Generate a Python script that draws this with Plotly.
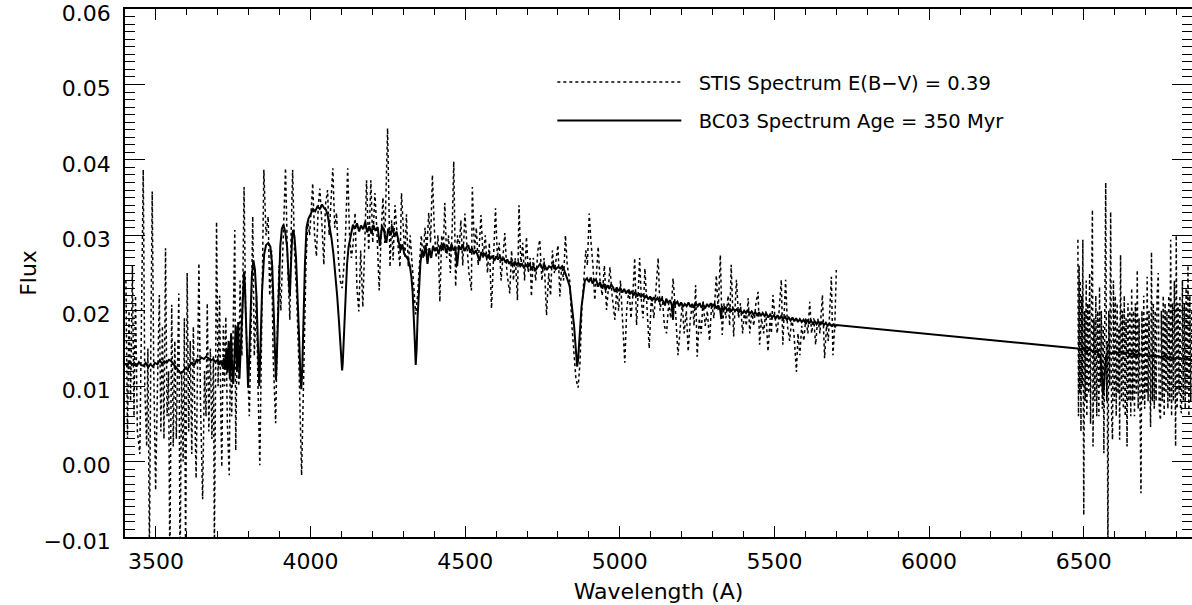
import plotly.graph_objects as go

# ---------------- data ----------------
# STIS observed spectrum, blue part (wavelength in A, flux)
stis_blue_wave = [
    3403, 3408, 3413, 3418, 3424, 3429, 3434, 3440, 3448, 3454, 3459, 3464, 3470, 3474, 3479, 3484,
    3488, 3493, 3499, 3505, 3511, 3516, 3521, 3526, 3531, 3536, 3541, 3545, 3551, 3556, 3561, 3566,
    3571, 3574, 3578, 3583, 3588, 3592, 3596, 3601, 3606, 3611, 3616, 3621, 3626, 3630, 3635, 3639,
    3644, 3651, 3657, 3662, 3666, 3671, 3676, 3681, 3686, 3689, 3693, 3696, 3701, 3706, 3710, 3713,
    3718, 3722, 3726, 3731, 3737, 3741, 3745, 3750, 3755, 3758, 3763, 3768, 3772, 3778, 3785, 3790,
    3796, 3802, 3808, 3813, 3818, 3825, 3830, 3836, 3842, 3849, 3856, 3863, 3868, 3874, 3879, 3887,
    3893, 3898, 3904, 3912, 3919, 3926, 3933, 3937, 3942, 3948, 3955, 3963, 3971, 3978, 3985, 3991,
    3997, 4003, 4007, 4013, 4019, 4025, 4030, 4036, 4043, 4048, 4055, 4060, 4066, 4072, 4078, 4084,
    4090, 4096, 4102, 4108, 4113, 4120, 4126, 4132, 4138, 4144, 4150, 4156, 4162, 4169, 4176, 4181,
    4188, 4195, 4201, 4208, 4214, 4222, 4228, 4234, 4240, 4249, 4257, 4262, 4267, 4273, 4280, 4289,
    4294, 4300, 4305, 4310, 4316, 4322, 4328, 4334, 4340, 4346, 4352, 4358, 4364, 4370, 4376, 4382,
    4388, 4394, 4400, 4406, 4412, 4418, 4424, 4429, 4434, 4440, 4446, 4452, 4458, 4463, 4469, 4475,
    4480, 4486, 4492, 4499, 4505, 4512, 4520, 4523, 4530, 4536, 4542, 4551, 4558, 4565, 4572, 4578,
    4585, 4592, 4598, 4604, 4610, 4616, 4622, 4628, 4635, 4644, 4650, 4656, 4662, 4669, 4674, 4680,
    4686, 4692, 4698, 4704, 4710, 4714, 4720, 4728, 4735, 4741, 4748, 4755, 4763, 4770, 4776, 4782,
    4788, 4794, 4800, 4806, 4812, 4818, 4824, 4830, 4838, 4845, 4852, 4858, 4865, 4871, 4877, 4884,
    4890, 4895, 4901, 4907, 4913, 4919, 4925, 4930, 4936, 4943, 4950, 4957, 4963, 4968, 4975, 4984,
    4990, 4996, 5002, 5010, 5016, 5022, 5030, 5036, 5042, 5048, 5054, 5059, 5064, 5070, 5075, 5081,
    5088, 5095, 5102, 5110, 5117, 5124, 5130, 5137, 5144, 5151, 5158, 5165, 5172, 5180, 5188, 5195,
    5202, 5208, 5215, 5221, 5228, 5235, 5240, 5245, 5250, 5257, 5263, 5269, 5276, 5283, 5290, 5297,
    5304, 5312, 5318, 5325, 5331, 5337, 5343, 5350, 5355, 5360, 5368, 5377, 5384, 5390, 5397, 5403,
    5409, 5415, 5420, 5427, 5433, 5440, 5447, 5452, 5458, 5465, 5472, 5479, 5486, 5490, 5495, 5502,
    5509, 5515, 5522, 5527, 5536, 5542, 5549, 5556, 5563, 5571, 5576, 5582, 5588, 5595, 5601, 5608,
    5614, 5620, 5627, 5633, 5640, 5647, 5655, 5662, 5668, 5674, 5679, 5684, 5689, 5695, 5700,
]
stis_blue_flux = [
    0.024, 0.003, 0.020, 0.008, 0.026, 0.006, 0.022, 0.004, 0.001, 0.020, 0.0387, 0.010, 0.002, 0.015, -0.012, 0.018,
    0.0358, 0.012, -0.0038, 0.010, 0.0221, 0.004, 0.018, 0.003, 0.0283, 0.006, 0.012, -0.014, 0.0208, 0.002, 0.016, 0.003,
    0.018, 0.0223, -0.015, 0.012, 0.000, 0.019, -0.013, 0.0250, 0.004, 0.016, 0.001, 0.0179, 0.006, -0.0022, 0.014, 0.0263,
    0.008, -0.005, 0.012, 0.006, 0.021, 0.004, 0.015, 0.003, 0.014, -0.012, 0.012, 0.0318, 0.010, 0.022, 0.006, -0.0007,
    0.018, 0.010, 0.0192, 0.005, -0.0018, 0.016, 0.006, 0.020, 0.0307, 0.0015, 0.018, 0.010, 0.024, 0.014, 0.0364, 0.020,
    0.012, 0.006, 0.018, 0.0325, 0.014, 0.022, 0.010, -0.0005, 0.018, 0.0387, 0.030, 0.0325, 0.022, 0.028, 0.014, 0.0051,
    0.018, 0.026, 0.020, 0.032, 0.0389, 0.026, 0.0188, 0.030, 0.0387, 0.028, 0.022, 0.012, -0.0018, 0.012, 0.026, 0.032,
    0.030, 0.034, 0.0369, 0.030, 0.0272, 0.034, 0.0362, 0.032, 0.0261, 0.034, 0.036, 0.030, 0.034, 0.0389, 0.031, 0.033,
    0.027, 0.024, 0.023, 0.026, 0.030, 0.0389, 0.030, 0.027, 0.029, 0.033, 0.023, 0.0199, 0.028, 0.0205, 0.030, 0.0373,
    0.028, 0.0373, 0.029, 0.0356, 0.031, 0.0227, 0.030, 0.035, 0.029, 0.0442, 0.0258, 0.032, 0.0267, 0.034, 0.030, 0.0258,
    0.0356, 0.030, 0.027, 0.0328, 0.0258, 0.030, 0.026, 0.022, 0.0195, 0.022, 0.026, 0.030, 0.027, 0.031, 0.028, 0.033,
    0.029, 0.038, 0.031, 0.027, 0.030, 0.0212, 0.030, 0.028, 0.0343, 0.027, 0.030, 0.025, 0.031, 0.0398, 0.0232, 0.030,
    0.028, 0.032, 0.026, 0.0329, 0.029, 0.025, 0.0227, 0.0364, 0.028, 0.031, 0.026, 0.0327, 0.027, 0.030, 0.025, 0.029,
    0.0203, 0.028, 0.0336, 0.027, 0.029, 0.024, 0.027, 0.0303, 0.025, 0.0223, 0.028, 0.024, 0.027, 0.0214, 0.034, 0.026,
    0.029, 0.024, 0.0298, 0.025, 0.027, 0.0219, 0.027, 0.024, 0.028, 0.0294, 0.024, 0.027, 0.0194, 0.025, 0.022, 0.028,
    0.025, 0.027, 0.0287, 0.0219, 0.026, 0.024, 0.030, 0.026, 0.024, 0.018, 0.014, 0.011, 0.0098, 0.013, 0.020, 0.024,
    0.028, 0.026, 0.0329, 0.029, 0.026, 0.0214, 0.025, 0.0285, 0.024, 0.022, 0.026, 0.0201, 0.023, 0.0258, 0.022, 0.0188,
    0.023, 0.020, 0.024, 0.018, 0.0131, 0.020, 0.023, 0.019, 0.022, 0.027, 0.0181, 0.022, 0.027, 0.021, 0.019, 0.0256,
    0.020, 0.015, 0.022, 0.019, 0.023, 0.027, 0.020, 0.022, 0.018, 0.017, 0.021, 0.019, 0.0243, 0.020, 0.0141, 0.018,
    0.021, 0.017, 0.020, 0.0146, 0.019, 0.021, 0.018, 0.0234, 0.0139, 0.019, 0.017, 0.0214, 0.018, 0.020, 0.016, 0.021,
    0.019, 0.0247, 0.020, 0.0274, 0.0168, 0.021, 0.019, 0.022, 0.018, 0.0261, 0.0166, 0.0241, 0.019, 0.021, 0.017, 0.020,
    0.018, 0.0217, 0.017, 0.020, 0.018, 0.021, 0.0225, 0.0155, 0.019, 0.017, 0.020, 0.0146, 0.019, 0.017, 0.0221, 0.019,
    0.017, 0.020, 0.0241, 0.0155, 0.0241, 0.018, 0.016, 0.019, 0.017, 0.0119, 0.017, 0.0141, 0.018, 0.016, 0.019, 0.017,
    0.0212, 0.017, 0.019, 0.0155, 0.019, 0.017, 0.0221, 0.0137, 0.018, 0.016, 0.020, 0.0245, 0.0141, 0.018, 0.0254,
]

# STIS observed spectrum, red part
stis_red_wave = [
    6481, 6483, 6485, 6487, 6489, 6491, 6493, 6495, 6497, 6500, 6503, 6505, 6508, 6510, 6513, 6516,
    6519, 6522, 6525, 6528, 6530, 6533, 6536, 6539, 6542, 6545, 6549, 6551, 6554, 6557, 6560, 6563,
    6565, 6568, 6571, 6574, 6576, 6578, 6581, 6584, 6587, 6590, 6593, 6596, 6599, 6602, 6605, 6608,
    6611, 6614, 6616, 6619, 6622, 6625, 6628, 6631, 6634, 6637, 6640, 6643, 6646, 6649, 6652, 6655,
    6658, 6661, 6664, 6667, 6670, 6673, 6676, 6679, 6682, 6685, 6688, 6691, 6694, 6697, 6700, 6703,
    6705, 6708, 6711, 6714, 6716, 6719, 6722, 6725, 6728, 6731, 6734, 6737, 6741, 6744, 6748, 6751,
    6754, 6757, 6760, 6763, 6766, 6769, 6772, 6775, 6778, 6781, 6784, 6787, 6790, 6793, 6797, 6799,
    6802, 6805, 6808, 6811, 6813, 6816, 6819, 6822, 6825, 6828, 6831, 6834, 6837, 6840, 6843, 6846,
    6849,
]
stis_red_flux = [
    0.0294, 0.006, 0.026, 0.009, 0.024, 0.004, 0.022, 0.010, 0.0294, -0.0071, 0.020, 0.008, 0.024, 0.006, 0.021, 0.009,
    0.025, 0.005, 0.022, 0.0334, 0.002, 0.019, 0.008, 0.022, 0.006, 0.020, 0.006, 0.0232, 0.010, 0.020, 0.007, 0.018,
    0.0011, 0.022, 0.037, 0.008, 0.016, -0.013, 0.020, 0.010, 0.0331, 0.006, 0.0029, 0.024, 0.008, 0.022, 0.006, 0.021,
    0.009, 0.018, 0.0029, 0.0274, 0.008, 0.020, 0.007, 0.022, 0.006, 0.019, 0.002, 0.021, 0.008, 0.020, 0.006, 0.023,
    0.008, 0.020, 0.006, 0.021, 0.009, 0.0254, 0.007, 0.019, 0.006, -0.0042, 0.020, 0.008, 0.022, 0.007, 0.019, 0.009,
    0.0245, 0.008, 0.020, 0.006, 0.0046, 0.0278, 0.008, 0.021, 0.007, 0.020, 0.008, 0.022, 0.025, 0.007, 0.0055, 0.020,
    0.008, 0.022, 0.006, 0.021, 0.009, 0.020, 0.007, 0.022, 0.008, 0.0294, 0.006, 0.021, 0.008, 0.024, 0.002, 0.030,
    0.007, 0.021, 0.009, 0.022, 0.007, 0.0064, 0.024, 0.008, 0.021, 0.007, 0.023, 0.009, 0.026, 0.006, 0.022, 0.008,
    0.020,
]

# BC03 model spectrum (350 Myr)
bc03_wave = [
    3400, 3408, 3415, 3422, 3430, 3437, 3445, 3452, 3460, 3467, 3475, 3482, 3490, 3497, 3505, 3512,
    3520, 3527, 3535, 3542, 3550, 3557, 3565, 3572, 3580, 3587, 3595, 3602, 3610, 3617, 3625, 3632,
    3640, 3647, 3655, 3662, 3670, 3677, 3685, 3692, 3700, 3705, 3710, 3715, 3720, 3724, 3728, 3731,
    3735, 3739, 3743, 3747, 3750, 3754, 3758, 3762, 3766, 3770, 3774, 3778, 3782, 3785, 3788, 3792,
    3795, 3798, 3801, 3805, 3810, 3815, 3820, 3825, 3830, 3834, 3838, 3843, 3850, 3856, 3863, 3870,
    3876, 3881, 3885, 3888, 3891, 3896, 3902, 3907, 3912, 3918, 3924, 3929, 3933, 3937, 3941, 3944,
    3948, 3953, 3958, 3963, 3967, 3970, 3973, 3977, 3982, 3987, 3993, 4000, 4008, 4015, 4022, 4030,
    4037, 4044, 4050, 4056, 4062, 4068, 4074, 4080, 4086, 4092, 4097, 4100, 4102, 4104, 4108, 4113,
    4118, 4123, 4130, 4137, 4144, 4150, 4157, 4163, 4170, 4177, 4183, 4190, 4197, 4203, 4210, 4217,
    4224, 4231, 4238, 4245, 4251, 4258, 4265, 4271, 4278, 4285, 4291, 4297, 4303, 4309, 4315, 4321,
    4326, 4330, 4334, 4337, 4340, 4343, 4346, 4350, 4355, 4360, 4366, 4372, 4378, 4384, 4390, 4396,
    4402, 4408, 4414, 4420, 4426, 4432, 4438, 4444, 4450, 4456, 4462, 4468, 4474, 4480, 4486, 4492,
    4498, 4504, 4510, 4516, 4522, 4528, 4534, 4540, 4546, 4552, 4558, 4564, 4570, 4576, 4582, 4588,
    4594, 4600, 4606, 4612, 4618, 4624, 4630, 4636, 4642, 4648, 4654, 4660, 4666, 4672, 4678, 4684,
    4690, 4696, 4702, 4708, 4714, 4720, 4728, 4735, 4742, 4750, 4757, 4764, 4771, 4778, 4785, 4792,
    4800, 4807, 4814, 4820, 4826, 4832, 4838, 4843, 4848, 4852, 4856, 4859, 4862, 4865, 4868, 4872,
    4876, 4881, 4887, 4894, 4900, 4906, 4912, 4918, 4924, 4930, 4936, 4942, 4948, 4954, 4960, 4966,
    4972, 4978, 4984, 4990, 4996, 5002, 5008, 5014, 5020, 5026, 5032, 5038, 5044, 5050, 5056, 5062,
    5068, 5074, 5080, 5086, 5092, 5098, 5104, 5110, 5116, 5122, 5128, 5134, 5140, 5146, 5150, 5156,
    5162, 5168, 5172, 5175, 5180, 5186, 5192, 5198, 5204, 5210, 5216, 5222, 5228, 5234, 5240, 5246,
    5252, 5258, 5264, 5270, 5276, 5282, 5288, 5294, 5300, 5306, 5312, 5318, 5324, 5328, 5330, 5336,
    5342, 5348, 5354, 5360, 5366, 5372, 5378, 5384, 5390, 5396, 5402, 5408, 5414, 5420, 5426, 5432,
    5438, 5444, 5450, 5456, 5462, 5468, 5474, 5480, 5486, 5492, 5498, 5504, 5510, 5516, 5522, 5528,
    5534, 5540, 5546, 5552, 5558, 5564, 5570, 5576, 5582, 5588, 5594, 5600, 5606, 5612, 5618, 5624,
    5630, 5636, 5642, 5648, 5654, 5660, 5666, 5672, 5678, 5684, 5690, 5696, 5700,
    6480, 6490, 6500, 6510, 6520, 6530, 6540, 6548, 6554, 6558, 6561, 6563, 6565, 6568, 6572, 6580,
    6590, 6600, 6610, 6620, 6630, 6640, 6650, 6660, 6670, 6680, 6690, 6700, 6710, 6720, 6730, 6740,
    6750, 6760, 6770, 6780, 6790, 6800, 6810, 6820, 6830, 6840, 6850,
]
bc03_flux = [
    0.0130, 0.0127, 0.0133, 0.0128, 0.0131, 0.0126, 0.0132, 0.0128, 0.0127, 0.0131, 0.0125, 0.0129, 0.0126, 0.0131, 0.0129, 0.0134,
    0.0130, 0.0133, 0.0131, 0.0135, 0.0133, 0.0129, 0.0125, 0.0121, 0.0117, 0.0119, 0.0124, 0.0122, 0.0128, 0.0131, 0.0129, 0.0135,
    0.0134, 0.0138, 0.0136, 0.0139, 0.0137, 0.0134, 0.0136, 0.0132, 0.0135, 0.0128, 0.0134, 0.0126, 0.0137, 0.0122, 0.0150, 0.0118,
    0.0160, 0.0110, 0.0170, 0.0115, 0.0103, 0.0140, 0.0180, 0.0120, 0.0185, 0.0110, 0.0150, 0.0200, 0.0235, 0.0252, 0.0230, 0.0180,
    0.0125, 0.0098, 0.0130, 0.0195, 0.0245, 0.0267, 0.0255, 0.0220, 0.0160, 0.0100, 0.0150, 0.0225, 0.0275, 0.0287, 0.0290, 0.0285,
    0.0260, 0.0200, 0.0140, 0.0108, 0.0140, 0.0220, 0.0285, 0.0308, 0.0314, 0.0305, 0.0285, 0.0245, 0.0219, 0.0265, 0.0302, 0.0307,
    0.0298, 0.0270, 0.0225, 0.0165, 0.0115, 0.0096, 0.0120, 0.0190, 0.0265, 0.0311, 0.0322, 0.0328, 0.0335, 0.0332, 0.0338, 0.0335,
    0.0341, 0.0336, 0.0334, 0.0325, 0.0312, 0.0295, 0.0275, 0.0250, 0.0220, 0.0185, 0.0150, 0.0128, 0.0121, 0.0130, 0.0175, 0.0225,
    0.0262, 0.0285, 0.0300, 0.0314, 0.0309, 0.0316, 0.0305, 0.0313, 0.0308, 0.0318, 0.0304, 0.0312, 0.0302, 0.0314, 0.0306, 0.0311,
    0.0286, 0.0313, 0.0305, 0.0290, 0.0309, 0.0300, 0.0312, 0.0298, 0.0305, 0.0292, 0.0280, 0.0288, 0.0275, 0.0272, 0.0268, 0.0260,
    0.0245, 0.0225, 0.0195, 0.0160, 0.0128, 0.0150, 0.0190, 0.0230, 0.0262, 0.0280, 0.0272, 0.0287, 0.0262, 0.0283, 0.0270, 0.0286,
    0.0279, 0.0284, 0.0275, 0.0287, 0.0281, 0.0289, 0.0277, 0.0285, 0.0279, 0.0288, 0.0280, 0.0284, 0.0259, 0.0286, 0.0281, 0.0288,
    0.0279, 0.0284, 0.0287, 0.0277, 0.0283, 0.0275, 0.0280, 0.0274, 0.0266, 0.0278, 0.0272, 0.0276, 0.0270, 0.0275, 0.0269, 0.0273,
    0.0266, 0.0272, 0.0268, 0.0273, 0.0266, 0.0270, 0.0264, 0.0268, 0.0262, 0.0266, 0.0260, 0.0265, 0.0261, 0.0264, 0.0259, 0.0262,
    0.0257, 0.0261, 0.0258, 0.0262, 0.0256, 0.0259, 0.0254, 0.0258, 0.0262, 0.0256, 0.0260, 0.0254, 0.0259, 0.0257, 0.0261, 0.0255,
    0.0258, 0.0256, 0.0259, 0.0254, 0.0248, 0.0240, 0.0232, 0.0215, 0.0200, 0.0180, 0.0158, 0.0138, 0.0126, 0.0135, 0.0160, 0.0179,
    0.0205, 0.0223, 0.0240, 0.0243, 0.0238, 0.0244, 0.0236, 0.0241, 0.0240, 0.0232, 0.0238, 0.0230, 0.0236, 0.0228, 0.0234, 0.0229,
    0.0235, 0.0231, 0.0225, 0.0231, 0.0226, 0.0230, 0.0224, 0.0229, 0.0223, 0.0227, 0.0222, 0.0226, 0.0220, 0.0225, 0.0219, 0.0223,
    0.0218, 0.0222, 0.0217, 0.0220, 0.0215, 0.0219, 0.0213, 0.0218, 0.0214, 0.0217, 0.0212, 0.0216, 0.0213, 0.0207, 0.0216, 0.0210,
    0.0214, 0.0208, 0.0188, 0.0213, 0.0209, 0.0212, 0.0206, 0.0211, 0.0205, 0.0209, 0.0206, 0.0211, 0.0205, 0.0209, 0.0204, 0.0210,
    0.0206, 0.0210, 0.0204, 0.0208, 0.0203, 0.0209, 0.0205, 0.0210, 0.0206, 0.0209, 0.0203, 0.0207, 0.0202, 0.0189, 0.0206, 0.0201,
    0.0205, 0.0200, 0.0204, 0.0199, 0.0203, 0.0200, 0.0202, 0.0198, 0.0201, 0.0196, 0.0200, 0.0197, 0.0201, 0.0196, 0.0199, 0.0195,
    0.0198, 0.0194, 0.0198, 0.0193, 0.0197, 0.0193, 0.0196, 0.0191, 0.0195, 0.0191, 0.0194, 0.0190, 0.0194, 0.0189, 0.0193, 0.0189,
    0.0192, 0.0188, 0.0191, 0.0187, 0.0191, 0.0186, 0.0190, 0.0185, 0.0189, 0.0185, 0.0188, 0.0184, 0.0188, 0.0183, 0.0187, 0.0183,
    0.0186, 0.0182, 0.0186, 0.0181, 0.0185, 0.0181, 0.0184, 0.0180, 0.0183, 0.0180, 0.0182, 0.0179, 0.0181,
    0.0150, 0.0148, 0.0151, 0.0146, 0.0149, 0.0145, 0.0147, 0.0143, 0.0138, 0.0120, 0.0095, 0.0088, 0.0098, 0.0125, 0.0140, 0.0145,
    0.0143, 0.0146, 0.0144, 0.0146, 0.0143, 0.0145, 0.0142, 0.0144, 0.0141, 0.0143, 0.0140, 0.0142, 0.0139, 0.0141, 0.0139, 0.0140,
    0.0138, 0.0140, 0.0137, 0.0139, 0.0136, 0.0138, 0.0136, 0.0137, 0.0135, 0.0136, 0.0134,
]

legend_labels = ["  STIS Spectrum E(B\u2212V) = 0.39", "  BC03 Spectrum Age = 350 Myr"]
x_range = [3400, 6850]
y_range = [-0.01, 0.06001]

FONT = "DejaVu Sans"

# the STIS spectrum has a gap between its two parts
stis_wave = stis_blue_wave + [None] + stis_red_wave
stis_flux = stis_blue_flux + [None] + stis_red_flux

fig = go.Figure()
fig.add_trace(go.Scatter(
    x=stis_wave, y=stis_flux, mode="lines", name=legend_labels[0],
    line=dict(color="black", width=1.5, dash="dot"), connectgaps=False,
    legendgroup="a",
))
fig.add_trace(go.Scatter(
    x=bc03_wave, y=bc03_flux, mode="lines", name=legend_labels[1],
    line=dict(color="black", width=2), legendgroup="b",
))

axis_common = dict(
    showgrid=False, zeroline=False, showline=True, linecolor="black", linewidth=1.5,
    mirror="allticks", ticks="inside", tickcolor="black", tickwidth=1.2,
    tickfont=dict(family=FONT, size=22, color="black"), automargin=False,
    ticklabeloverflow="allow",
)

fig.update_xaxes(
    range=x_range, dtick=500, tick0=3500, ticklen=11,
    minor=dict(dtick=100, ticklen=6, ticks="inside", tickcolor="black", tickwidth=1.2),
    title=dict(text="Wavelength (A)", font=dict(family=FONT, size=22, color="black"), standoff=10),
    ticklabelstandoff=4,
    **axis_common,
)
fig.update_yaxes(
    range=y_range, dtick=0.01, tick0=0, ticklen=20, tickformat=".2f",
    minor=dict(dtick=0.001, ticklen=10, ticks="inside", tickcolor="black", tickwidth=1.2),
    title=dict(text="Flux", font=dict(family=FONT, size=22, color="black"), standoff=1),
    ticklabelstandoff=8, ticklabelshift=4,
    **axis_common,
)

fig.update_layout(
    width=1192, height=605,
    margin=dict(l=125, r=0, t=9, b=68),
    paper_bgcolor="white", plot_bgcolor="white",
    showlegend=True,
    legend=dict(
        x=0.4005, y=0.898, xanchor="left", yanchor="top",
        bgcolor="rgba(0,0,0,0)", borderwidth=0,
        font=dict(family=FONT, size=19.5, color="black"),
        itemwidth=124, tracegroupgap=10,
    ),
    font=dict(family=FONT, color="black"),
)

fig.write_html(
    "out.html",
    config={"displayModeBar": False},
    post_script="document.body.style.margin='0';",
)
